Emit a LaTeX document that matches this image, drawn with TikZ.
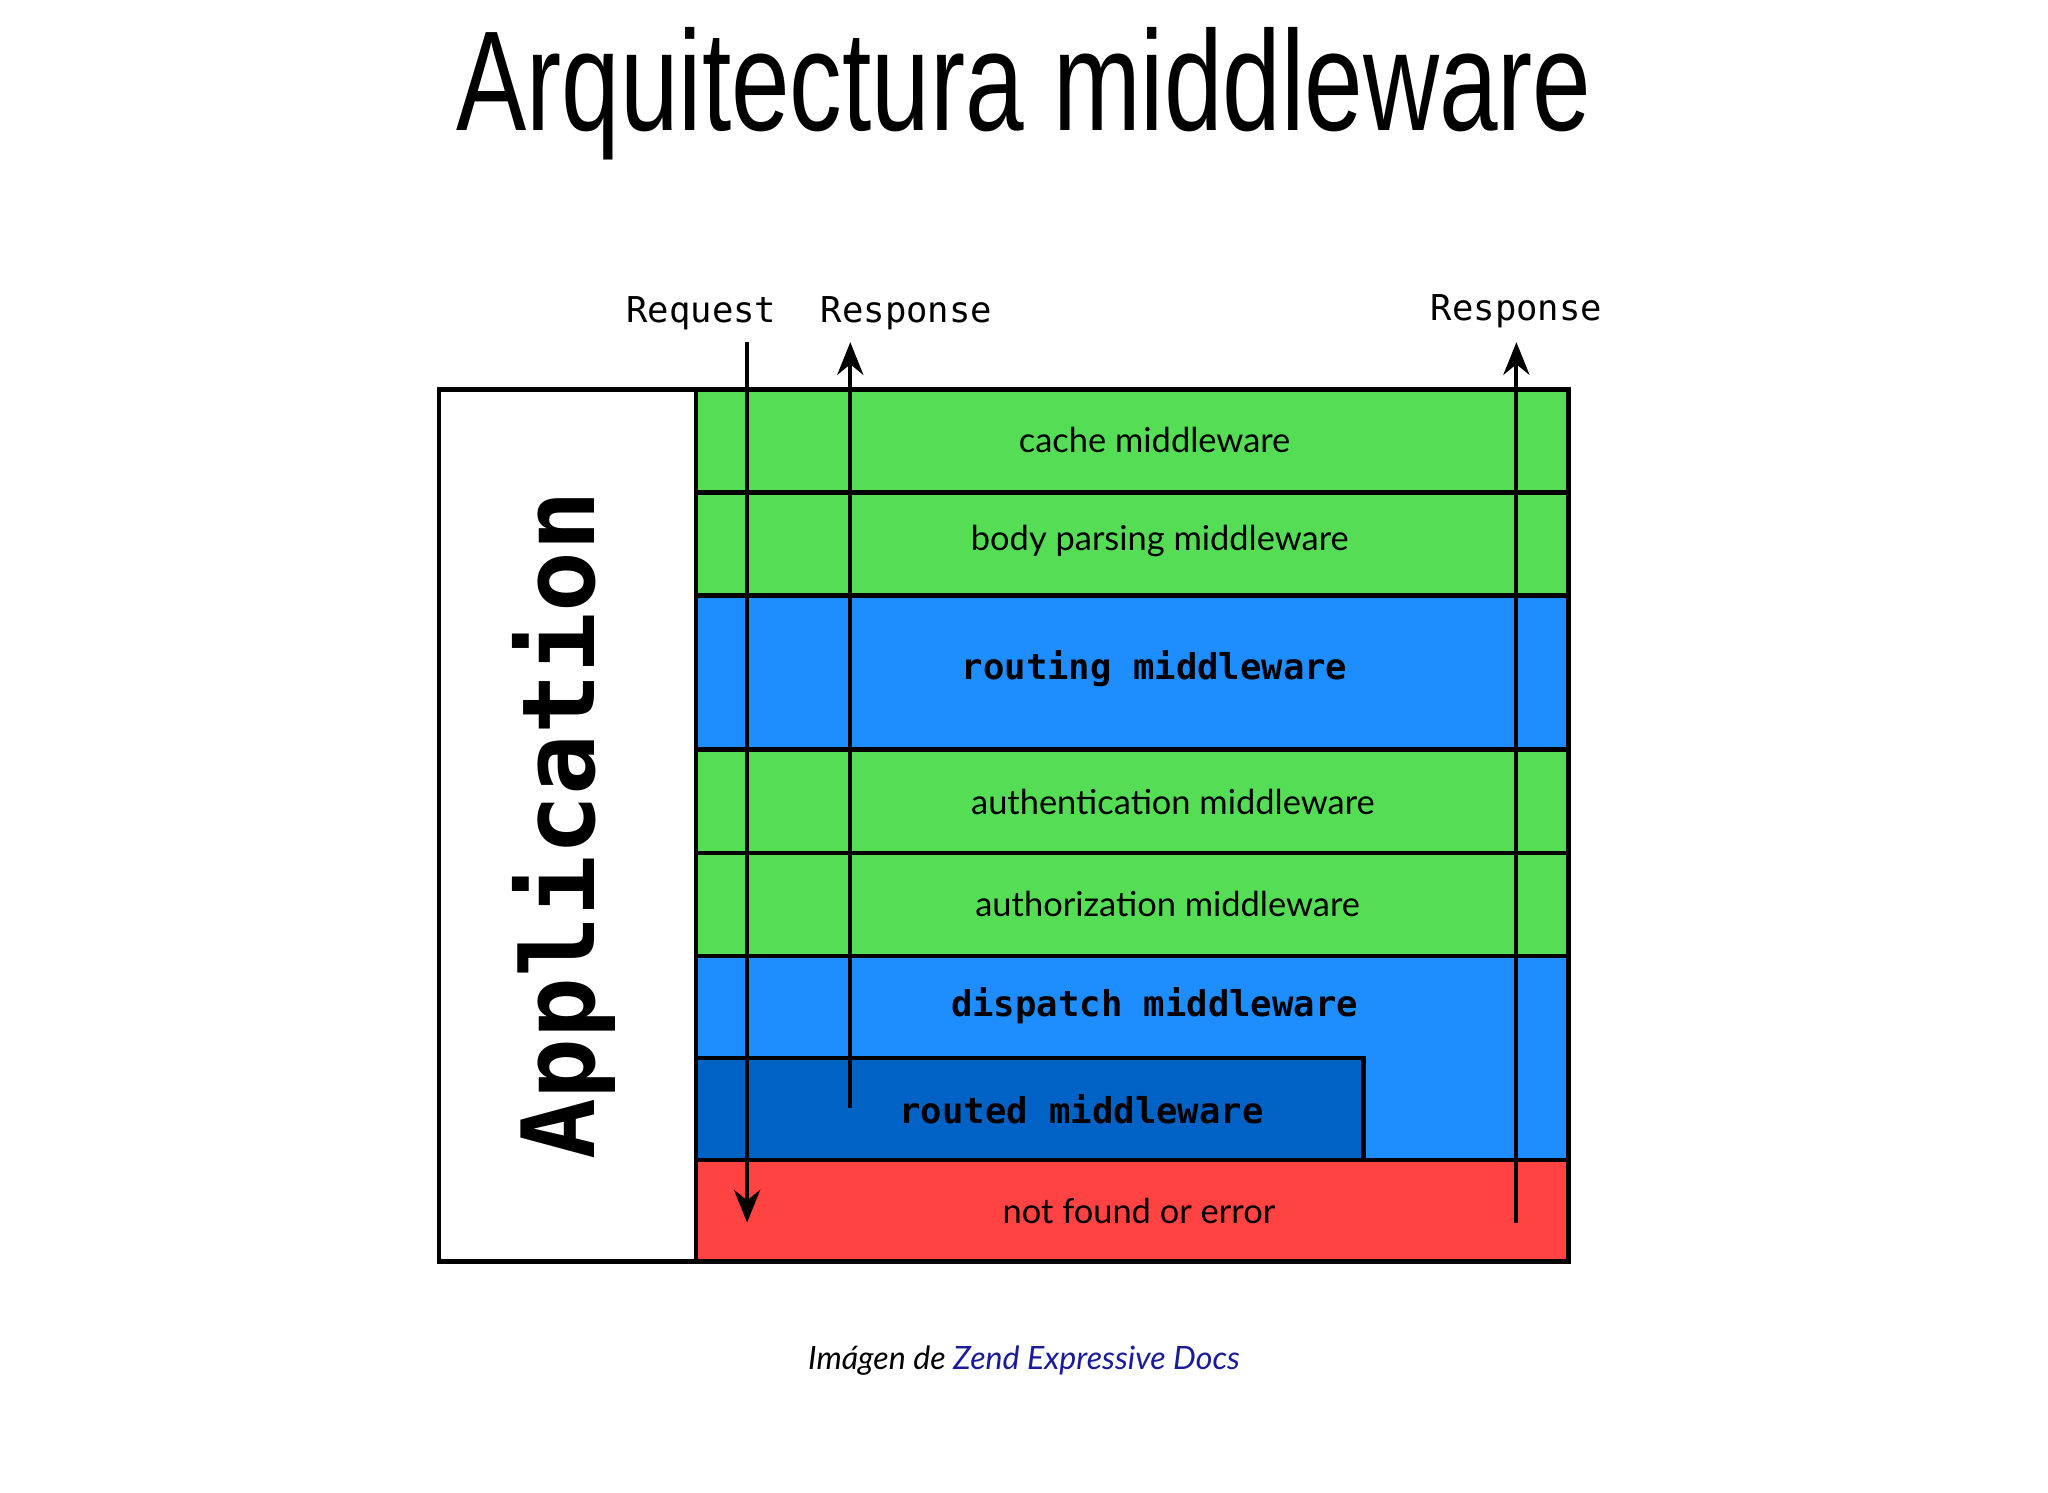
\documentclass[tikz,border=0pt]{standalone}
\usepackage{fontspec}
\setmainfont{Lato}
\setmonofont{DejaVu Sans Mono}
\newfontfamily\titlefont{Liberation Sans}
\usetikzlibrary{arrows.meta}
\definecolor{gr}{HTML}{55DD55}
\definecolor{bl}{HTML}{1E8EFF}
\definecolor{dbl}{HTML}{0062C4}
\definecolor{rd}{HTML}{FF4242}
\definecolor{lk}{HTML}{1A1A9C}
\begin{document}
\begin{tikzpicture}[x=0.2mm,y=-0.2mm,
  box/.style={draw=black,line width=0.7mm},
  rowtxt/.style={font=\fontsize{15}{18}\selectfont},
  monob/.style={font=\ttfamily\bfseries\fontsize{15.5}{18}\selectfont},
  lbl/.style={font=\ttfamily\fontsize{15.5}{18}\selectfont},
  flow/.style={line width=0.6mm,-{Stealth[length=5mm,width=4mm]}}]
\useasboundingbox (0,0) rectangle (1568,1143);
\node[font=\titlefont\fontsize{62}{70}\selectfont,xscale=0.74] (title) at (784,72) {Arquitectura middleware};
% rows
\path[box,fill=white] (336,298) rectangle (533,966);
\path[box,fill=gr] (533,298) rectangle (1201,377);
\path[box,fill=gr] (533,377) rectangle (1201,456);
\path[box,fill=bl] (533,456) rectangle (1201,574);
\path[box,fill=gr] (533,574) rectangle (1201,653);
\path[box,fill=gr] (533,653) rectangle (1201,732);
\path[box,fill=bl] (533,732) rectangle (1201,888);
\path[box,fill=dbl] (533,810) rectangle (1044,888);
\path[box,fill=rd] (533,888) rectangle (1201,966);
\draw[box] (336,298) rectangle (1201,966);
\node[rotate=90,font=\ttfamily\bfseries\fontsize{44}{50}\selectfont] (app) at (432,632) {Application};
\node[rowtxt] (c1) at (884,337) {cache middleware};
\node[rowtxt] (c2) at (888,414) {body parsing middleware};
\node[monob] (c3) at (884,512) {routing middleware};
\node[rowtxt] (c4) at (898,614) {authentication middleware};
\node[rowtxt] (c5) at (894,692) {authorization middleware};
\node[monob] (c6) at (884,770) {dispatch middleware};
\node[monob] (c7) at (828,849) {routed middleware};
\node[rowtxt] (c8) at (872,927) {not found or error};
% labels and arrows
\node[lbl] (req) at (537,240) {Request};
\node[lbl] (res1) at (694,240) {Response};
\node[lbl] (res2) at (1161,238) {Response};
\coordinate (rq0) at (572,262); \coordinate (rq1) at (572,936);
\coordinate (r10) at (651,848); \coordinate (r11) at (651,262);
\coordinate (r20) at (1161,936); \coordinate (r21) at (1161,262);
\draw[flow] (rq0) -- (rq1);
\draw[flow] (r10) -- (r11);
\draw[flow] (r20) -- (r21);
\node[font=\itshape\fontsize{14}{17}\selectfont] (cap) at (784,1042) {Imágen de \textcolor{lk}{Zend Expressive Docs}};
\end{tikzpicture}
\end{document}
